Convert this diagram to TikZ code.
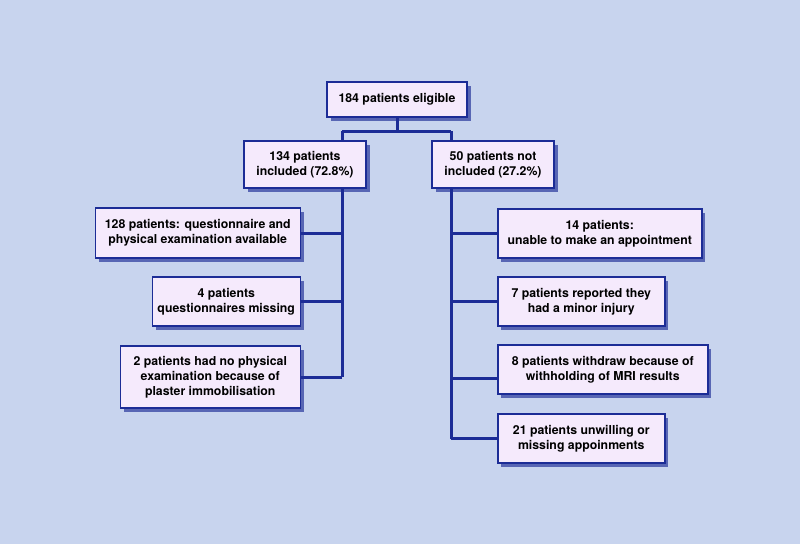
\documentclass[tikz,border=0pt]{standalone}
\usepackage{fontspec}
\setmainfont{TeX Gyre Heros}
\usetikzlibrary{shadows,backgrounds}
\definecolor{bgblue}{RGB}{200,212,238}
\definecolor{boxfill}{RGB}{245,234,252}
\definecolor{linkblue}{RGB}{28,44,150}
\tikzset{
  flowbox/.style={draw=linkblue,line width=1.5pt,fill=boxfill,align=center,
    inner sep=2pt,font=\fontsize{12.3}{15}\selectfont\bfseries,
    drop shadow={shadow xshift=3.5pt,shadow yshift=-3.5pt,fill=linkblue,opacity=.65}},
  link/.style={draw=linkblue,line width=3pt}
}
\begin{document}
\begin{tikzpicture}[x=1pt,y=-1pt]
        \useasboundingbox (0,0) rectangle (800,544);
        \node[flowbox,minimum width=140pt,minimum height=35pt] (elig) at (397,99.5) {184 patients eligible};
        \node[flowbox,minimum width=122pt,minimum height=47pt] (incl) at (305,164.5) {134 patients\\included (72.8\%)};
        \node[flowbox,minimum width=122pt,minimum height=47pt] (excl) at (493,164.5) {50 patients not\\included (27.2\%)};
        \node[flowbox,minimum width=205pt,minimum height=50pt,anchor=east] (q1) at (301,233) {128 patients: questionnaire and\\physical examination available};
        \node[flowbox,minimum width=148pt,minimum height=49pt,anchor=east] (q2) at (301,301.5) {4 patients\\questionnaires missing};
        \node[flowbox,minimum width=180pt,minimum height=62pt,anchor=east] (q3) at (301,377) {2 patients had no physical\\examination because of\\plaster immobilisation};
        \node[flowbox,minimum width=204pt,minimum height=49pt,anchor=west] (r1) at (497,233.5) {14 patients:\\unable to make an appointment};
        \node[flowbox,minimum width=167pt,minimum height=49pt,anchor=west] (r2) at (497,301.5) {7 patients reported they\\had a minor injury};
        \node[flowbox,minimum width=210pt,minimum height=49pt,anchor=west] (r3) at (497,369.5) {8 patients withdraw because of\\withholding of MRI results};
        \node[flowbox,minimum width=167pt,minimum height=49pt,anchor=west] (r4) at (497,438.5) {21 patients unwilling or\\missing appoinments};
        \coordinate (ltop) at (342,131);
        \coordinate (rtop) at (451,131);
        \begin{pgfonlayer}{background}
        \fill[bgblue] (0,0) rectangle (800,544);
        \draw[link] (elig.south) -- (elig.south |- ltop);
        \draw[link] (ltop) -- (rtop);
        \draw[link] (ltop) -- (ltop |- q3.west);
        \draw[link] (rtop) -- (rtop |- r4.west);
        \draw[link] (ltop |- q1.east) -- (q1.east);
        \draw[link] (ltop |- q2.east) -- (q2.east);
        \draw[link] (ltop |- q3.east) -- (q3.east);
        \draw[link] (rtop |- r1.west) -- (r1.west);
        \draw[link] (rtop |- r2.west) -- (r2.west);
        \draw[link] ([yshift=-9pt]rtop |- r3.west) -- ([yshift=-9pt]r3.west);
        \draw[link] (rtop |- r4.west) -- (r4.west);
        \end{pgfonlayer}
    \end{tikzpicture}
\end{document}
